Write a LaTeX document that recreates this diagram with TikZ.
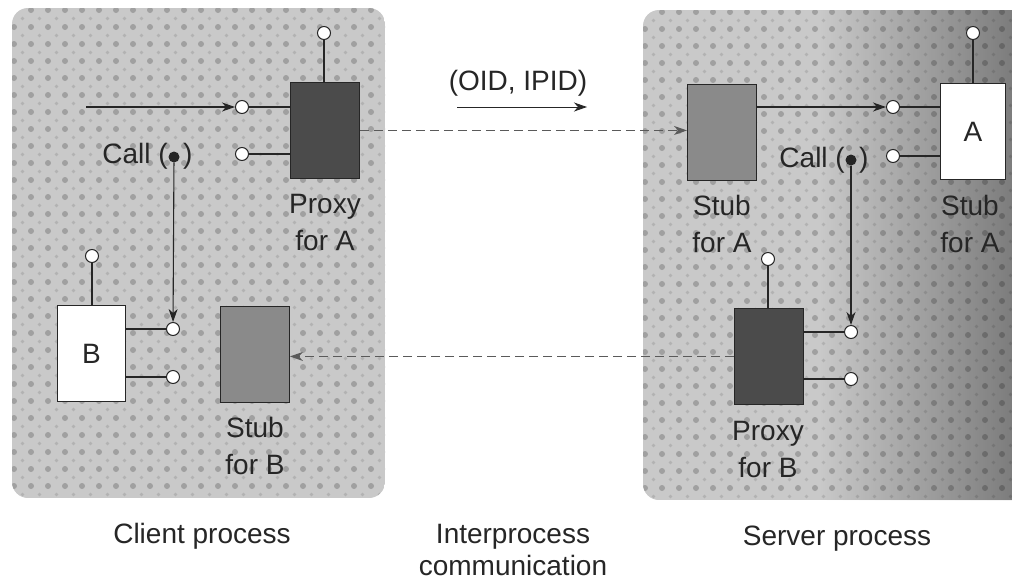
\documentclass[tikz,border=0pt]{standalone}
\usepackage{fontspec}
\setmainfont{Liberation Sans}
\usetikzlibrary{arrows.meta,fadings}

\definecolor{panelbase}{HTML}{C9C9C9}
\definecolor{paneldot}{HTML}{A0A0A0}
\definecolor{proxyfill}{HTML}{4B4B4B}
\definecolor{stubfill}{HTML}{8A8A8A}
\definecolor{inkgray}{HTML}{262626}
\definecolor{dashgray}{HTML}{5A5A5A}

\begin{document}
\begin{tikzpicture}[x=1pt,y=-1pt,
  txt/.style={font=\fontsize{28}{37}\selectfont, text=inkgray, inner sep=0pt},
  objbox/.style={draw=inkgray, line width=0.9pt, minimum height=96pt, inner sep=0pt, anchor=north west},
  proxybox/.style={objbox, fill=proxyfill, minimum width=69pt},
  stubbox/.style={objbox, fill=stubfill, minimum width=69pt},
  plainbox/.style={objbox, fill=white, font=\fontsize{28}{37}\selectfont, text=inkgray},
  socket/.style={circle, draw=inkgray, fill=white, line width=1pt, minimum size=13pt, inner sep=0pt},
  calldot/.style={circle, fill=inkgray, minimum size=11pt, inner sep=0pt},
  wire/.style={draw=inkgray, line width=1.1pt},
  flow/.style={wire, -{Stealth[length=13pt,width=9pt,inset=4pt]}},
  ipc/.style={draw=dashgray, line width=1.1pt, dash pattern=on 9pt off 5pt, -{Stealth[length=13pt,width=9pt,inset=4pt]}},
  bigdot/.style={fill=paneldot},
  smalldot/.style={fill=paneldot!55!panelbase},
]
\clip (0,0) rectangle (1012,584);
\fill[white] (0,0) rectangle (1012,584);

% ---- client process panel ----
\begin{scope}
  \clip[rounded corners=16pt] (12,8) rectangle (385,498);
  \fill[panelbase] (12,8) rectangle (385,498);
  \foreach \i in {0,...,22} \foreach \j in {0,...,29} {
    \fill[bigdot] (14+\i*17, 10+\j*17) circle (3pt);
    \fill[smalldot] (22.5+\i*17, 18.5+\j*17) circle (1.8pt);
  }
\end{scope}

% ---- server process panel, darkening towards the binding edge ----
\begin{scope}
  \clip[rounded corners=16pt] (643,10) rectangle (1060,500);
  \fill[panelbase] (643,10) rectangle (1060,500);
  \foreach \i in {0,...,22} \foreach \j in {0,...,29} {
    \fill[bigdot] (645+\i*17, 12+\j*17) circle (3pt);
    \fill[smalldot] (653.5+\i*17, 20.5+\j*17) circle (1.8pt);
  }
  \fill[black, opacity=0.5, path fading=west] (820,0) rectangle (1075,584);
\end{scope}

% ---- client objects ----
\node[proxybox] (proxyA) at (290,82) {};
\node[stubbox] (stubB) at (220,306) {};
\node[plainbox, minimum width=68pt] (objB) at (57,305) {B};

\node[socket] (sPt) at (324,33) {};
\node[socket] (sP1) at (242,107) {};
\node[socket] (sP2) at (242,154) {};
\node[socket] (sB0) at (92,256) {};
\node[socket] (sB1) at (173,329) {};
\node[socket] (sB2) at (173,377) {};
\node[calldot] (callC) at (174,157) {};
\coordinate (inC) at (86,107);

\draw[wire] (sPt) -- (sPt |- proxyA.north);
\draw[wire] (sP1) -- (sP1 -| proxyA.west);
\draw[wire] (sP2) -- (sP2 -| proxyA.west);
\draw[flow] (inC) -- (sP1);
\draw[wire] (sB0) -- (sB0 |- objB.north);
\draw[wire] (sB1 -| objB.east) -- (sB1);
\draw[wire] (sB2 -| objB.east) -- (sB2);
\draw[flow] (callC) -- (sB1);

\node[txt, anchor=base east] (callCl) at (168,163) {Call (};
\node[txt, anchor=base west] (callCr) at (183,163) {)};
\node[txt, align=center, anchor=base] (lblProxyA) at (325,250) {Proxy\\for A};
\node[txt, align=center, anchor=base] (lblStubB) at (255,474) {Stub\\for B};

% ---- server objects ----
\node[stubbox] (stubA) at (687,84) {};
\node[plainbox, minimum width=65pt] (objA) at (940,83) {A};
\node[proxybox] (proxyB) at (734,308) {};

\node[socket] (sAt) at (973,33) {};
\node[socket] (sA1) at (893,107) {};
\node[socket] (sA2) at (893,156) {};
\node[socket] (sQt) at (768,259) {};
\node[socket] (sQ1) at (851,332) {};
\node[socket] (sQ2) at (851,379) {};
\node[calldot] (callS) at (851,160) {};

\draw[wire] (sAt) -- (sAt |- objA.north);
\draw[wire] (sA1) -- (sA1 -| objA.west);
\draw[wire] (sA2) -- (sA2 -| objA.west);
\draw[flow] (sA1 -| stubA.east) -- (sA1);
\draw[wire] (sQt) -- (sQt |- proxyB.north);
\draw[wire] (sQ1 -| proxyB.east) -- (sQ1);
\draw[wire] (sQ2 -| proxyB.east) -- (sQ2);
\draw[flow] (callS) -- (sQ1);

\node[txt, anchor=base east] (callSl) at (845,167) {Call (};
\node[txt, anchor=base west] (callSr) at (859,167) {)};
\node[txt, align=center, anchor=base] (lblStubA) at (722,252) {Stub\\for A};
\node[txt, align=center, anchor=base] (lblStubA2) at (970,252) {Stub\\for A};
\node[txt, align=center, anchor=base] (lblProxyB) at (768,477) {Proxy\\for B};

% ---- interprocess communication ----
\draw[ipc] (proxyA.east) -- (proxyA.east -| stubA.west);
\draw[ipc] (proxyB.west) -- (proxyB.west -| stubB.east);

\node[txt, anchor=base] (oid) at (518,90) {(OID, IPID)};
\coordinate (oidL) at (457,107);
\coordinate (oidR) at (587,107);
\draw[flow, line width=0.9pt] (oidL) -- (oidR);

\node[txt, anchor=base] (client) at (202,543) {Client process};
\node[txt, anchor=base] (server) at (837,545) {Server process};
\node[txt, font=\fontsize{28}{32}\selectfont, align=center, anchor=base] (ipcLbl) at (513,575) {Interprocess\\communication};
\end{tikzpicture}
\end{document}
